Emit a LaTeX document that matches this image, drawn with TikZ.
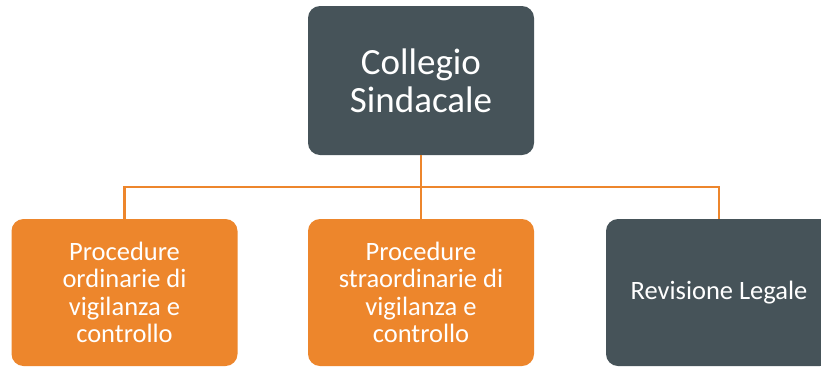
\documentclass[tikz,border=0pt]{standalone}
\usepackage{fontspec}
\setmainfont{Carlito}
\definecolor{slate}{HTML}{465359}
\definecolor{orng}{HTML}{ED862C}
\begin{document}
\begin{tikzpicture}[x=1pt,y=-1pt,
  boxbase/.style={rounded corners=12pt, minimum width=226pt, inner sep=0pt, text=white, align=center},
  topbox/.style={boxbase, fill=slate, minimum height=149pt, font=\fontsize{37}{38}\selectfont},
  orbox/.style={boxbase, fill=orng, minimum height=147pt, font=\fontsize{26.5}{27.5}\selectfont},
  slbox/.style={boxbase, fill=slate, minimum height=147pt, font=\fontsize{26.5}{27.5}\selectfont},
  conn/.style={draw=orng, line width=2.2pt}]
\useasboundingbox (0,0) rectangle (821,367);
\clip (0,0) rectangle (821,367);
\fill[white] (0,0) rectangle (821,367);
\node[topbox] (top) at (421,80.5) {Collegio\\Sindacale};
\node[orbox] (b1) at (124.5,292.5) {Procedure\\ordinarie di\\vigilanza e\\controllo};
\node[orbox] (b2) at (421,292.5) {Procedure\\straordinarie di\\vigilanza e\\controllo};
\node[slbox] (b3) at (719,292.5) {Revisione Legale};
\coordinate (bus) at (421,187);
\draw[conn] (top.south) -- (bus);
\draw[conn] (bus) -| (b1.north);
\draw[conn] (bus) -| (b3.north);
\draw[conn] (bus) -- (b2.north);
\end{tikzpicture}
\end{document}
